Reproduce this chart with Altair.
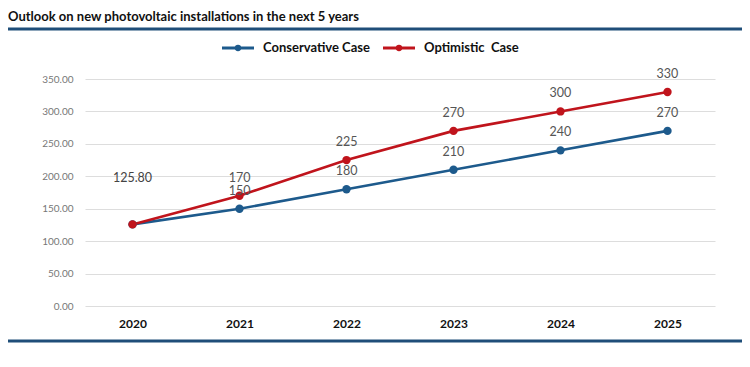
import altair as alt
import pandas as pd

years = ["2020", "2021", "2022", "2023", "2024", "2025"]
conservative = [125.8, 150, 180, 210, 240, 270]
optimistic = [125.8, 170, 225, 270, 300, 330]
series_names = ["Conservative Case", "Optimistic\u00a0 Case"]
colors = ["#1d5a8c", "#c0141c"]
y_ticks = [0, 50, 100, 150, 200, 250, 300, 350]

rows = []
for y, c, o in zip(years, conservative, optimistic):
    rows.append({"year": y, "value": c, "series": series_names[0]})
    rows.append({"year": y, "value": o, "series": series_names[1]})
df = pd.DataFrame(rows)
lab = df[df["year"] != years[0]].copy()
lab["label"] = lab["value"].map(lambda v: f"{v:g}")
first = pd.DataFrame([{"year": years[0], "value": conservative[0], "label": f"{conservative[0]:.2f}"}])

FONT = "Lato"
W, H = 630, 227

xenc = alt.X("year:O", scale=alt.Scale(type="point", padding=0.444),
             axis=alt.Axis(title=None, labelAngle=0, labelFont=FONT, labelFontWeight="bold",
                           labelFontSize=12, labelColor="#111", labelPadding=12,
                           domain=False, ticks=False, grid=False))
yenc = alt.Y("value:Q", scale=alt.Scale(domain=[0, 350], nice=False),
             axis=alt.Axis(title=None, values=y_ticks, tickCount=8, format=".2f", labelFont=FONT,
                           labelFontSize=10, labelColor="#777", labelPadding=12,
                           labelOverlap=False, labelFlush=False,
                           domain=False, ticks=False, gridColor="#dddddd", gridWidth=1.2))
color = alt.Color("series:N", scale=alt.Scale(domain=series_names, range=colors), legend=None)

base = alt.Chart(df)
lines = base.mark_line(strokeWidth=2.6).encode(x=xenc, y=yenc, color=color)
points = base.mark_circle(size=70, opacity=1).encode(x=xenc, y=yenc, color=color)
labels = alt.Chart(lab).mark_text(dy=-18, font=FONT, fontSize=12.5, color="#555").encode(
    x=xenc, y=yenc, text="label:N")
first_label = alt.Chart(first).mark_text(dy=-46, font=FONT, fontSize=12.5, color="#444").encode(
    x=xenc, y=yenc, text="label:N")

# decorative rules
top_rule = alt.Chart(pd.DataFrame({"a": [0]})).mark_rule(color="#1f4e79", strokeWidth=3).encode(
    x=alt.value(-80), x2=alt.value(662), y=alt.value(-50))
bot_rule = alt.Chart(pd.DataFrame({"a": [0]})).mark_rule(color="#1f4e79", strokeWidth=3).encode(
    x=alt.value(-80), x2=alt.value(662), y=alt.value(262))

# manual legend
leg_layers = []
for i, (name, col) in enumerate(zip(series_names, colors)):
    x0 = 137 + i * 161
    d = pd.DataFrame({"a": [0]})
    leg_layers.append(alt.Chart(d).mark_rule(color=col, strokeWidth=3).encode(
        x=alt.value(x0), x2=alt.value(x0 + 32), y=alt.value(-31)))
    leg_layers.append(alt.Chart(d).mark_circle(color=col, size=40, opacity=1).encode(
        x=alt.value(x0 + 16), y=alt.value(-31)))
    leg_layers.append(alt.Chart(d).mark_text(text=name, align="left", baseline="middle", font=FONT,
                                             fontSize=13, fontWeight="bold", color="#111").encode(
        x=alt.value(x0 + 41), y=alt.value(-31)))

chart = alt.layer(lines, points, labels, first_label, top_rule, bot_rule, *leg_layers).properties(
    width=W, height=H,
    title=alt.Title("Outlook on new photovoltaic installations in the next 5 years",
                    anchor="start", frame="group", dx=-77, offset=4, font=FONT,
                    fontSize=13, fontWeight="bold", color="#111"),
    autosize=alt.AutoSizeParams(type="none"),
    padding={"left": 77, "top": 71, "right": 27, "bottom": 53},
).configure_view(stroke=None)

chart.save("out.html", embed_options={"renderer": "svg", "actions": False})
